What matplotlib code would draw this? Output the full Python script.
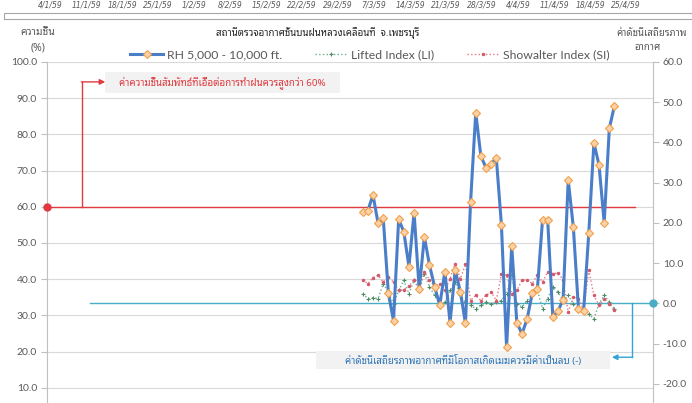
import matplotlib
matplotlib.use("Agg")
import matplotlib.pyplot as plt
from matplotlib.patches import Rectangle
import numpy as np

plt.rcParams['font.family'] = ['Lato', 'Noto Sans Thai Looped', 'DejaVu Sans']
THAI = ['Noto Sans Thai Looped', 'Lato', 'DejaVu Sans']

# data - 50 soundings, category index 61..110 of 118
rh = [58.6, 58.9, 63.3, 55.4, 56.8, 36.1, 28.5, 56.6, 53.1, 43.5,
      58.4, 37.2, 51.7, 43.9, 37.9, 32.9, 42.1, 28.0, 42.5, 36.6,
      27.8, 61.4, 86.0, 74.0, 70.8, 71.8, 73.6, 55.0, 21.2, 49.2,
      28.0, 24.9, 29.0, 36.1, 37.3, 56.4, 56.4, 29.6, 31.2, 34.3,
      67.4, 54.3, 31.7, 31.3, 52.7, 77.7, 71.5, 55.6, 81.7, 87.9]
li = [2.4, 1.2, 1.4, 1.2, 4.9, 2.8, -0.1, 3.2, 5.7, 2.4,
      5.7, 4.1, 7.4, 4.1, 2.0, -0.5, 0.3, 3.2, 5.3, 2.0,
      0.3, -0.5, -1.3, -0.5, 0.3, -0.1, 0.3, 0.7, 2.4, 7.0,
      -0.1, -0.9, 0.7, 2.4, 3.2, -1.3, 1.2, 4.1, 2.8, 0.7,
      2.0, -0.1, -1.7, -1.7, -2.7, -3.8, -0.1, 2.0, 0.3, -1.3]
si = [5.9, 4.9, 6.4, 7.0, 5.3, 6.5, 5.3, 3.2, 3.4, 4.2,
      5.9, 3.1, 7.8, 5.9, 4.1, 4.9, 3.2, 6.1, 9.9, 6.1,
      9.7, 0.7, 2.0, 0.7, 2.0, 2.8, 0.7, 7.2, 7.0, 2.4,
      3.2, 5.7, 5.9, 4.9, 7.1, 5.3, 7.8, 7.4, 7.5, 5.9,
      -2.2, 1.6, 1.2, -1.7, 8.2, 2.0, -0.5, 1.2, -0.1, -1.7]
n_cat = 118
first_cat = 61
rh_threshold = 60
index_threshold = 0

top_dates = ["4/1/59", "11/1/59", "18/1/59", "25/1/59", "1/2/59", "8/2/59",
             "15/2/59", "22/2/59", "29/2/59", "7/3/59", "14/3/59", "21/3/59",
             "28/3/59", "4/4/59", "11/4/59", "18/4/59", "25/4/59"]

title = "สถานีตรวจอากาศชั้นบนฝนหลวงเคลื่อนที่  จ.เพชรบุรี"
left_label = "ความชื้น\n(%)"
right_label = "ค่าดัชนีเสถียรภาพ"
right_label2 = "อากาศ"
rh_note = "ค่าความชื้นสัมพัทธ์ที่เอื้อต่อการทำฝนควรสูงกว่า 60%"
si_note = "ค่าดัชนีเสถียรภาพอากาศที่มีโอกาสเกิดเมฆควรมีค่าเป็นลบ (-)"

x = np.arange(first_cat, first_cat + len(rh)) + 0.5

fig = plt.figure(figsize=(6.92, 4.03), dpi=100)
W, H = 692.0, 403.0
ax = fig.add_axes([46.7 / W, 1 - 424 / H, (653 - 46.7) / W, (424 - 62) / H])
ax2 = ax.twinx()

grey = '#595959'
axcol = '#bfbfbf'

ax.set_xlim(0, n_cat)
ax.set_ylim(0, 100)
ax2.set_ylim(-30, 60)
ax.set_yticks(np.arange(10, 101, 10))
ax2.set_yticks(np.arange(-20, 61, 10))
ax.set_yticklabels(["%.1f" % v for v in np.arange(10, 101, 10)])
ax2.set_yticklabels(["%.1f" % v for v in np.arange(-20, 61, 10)])
ax.set_xticks([])
ax.grid(axis='y', color='#d9d9d9', lw=0.8)
ax.set_axisbelow(True)
for a in (ax, ax2):
    for s in ('top', 'bottom'):
        a.spines[s].set_visible(False)
    a.spines['left'].set_color(axcol)
    a.spines['right'].set_color(axcol)
    a.tick_params(axis='y', colors=axcol, labelcolor=grey, labelsize=7.5,
                  length=4, width=0.8, pad=3)
ax2.spines['left'].set_visible(False)
ax.spines['right'].set_visible(False)

# threshold lines
ax.plot([0, 114.5], [rh_threshold, rh_threshold], color='#e0393e', lw=1.0, zorder=2)
ax.plot([0], [rh_threshold], 'o', color='#e0393e', ms=5, clip_on=False, zorder=6)
ax2.plot([8.4, n_cat], [index_threshold, index_threshold], color='#4bacc6', lw=1.0, zorder=2)
ax2.plot([n_cat], [index_threshold], 'o', color='#4bacc6', ms=5, clip_on=False, zorder=6)

# series
l_li, = ax2.plot(x, li, ls=':', lw=1.0, color='#6fae93', marker='+', ms=3,
                 mec='#4d8b62', mew=0.8, zorder=3)
l_si, = ax2.plot(x, si, ls=':', lw=1.0, color='#e07a85', marker='.', ms=3,
                 mec='#d45a6a', mfc='#d45a6a', zorder=3)
ax3 = ax.twinx()
ax3.set_ylim(0, 100)
ax3.axis('off')
l_rh, = ax3.plot(x, rh, color='#4a7ec9', lw=2.2, marker='D', ms=4,
                 mfc='#fbd2a8', mec='#f0a04b', mew=0.8, zorder=5)

# red annotation
ax.plot([6.9, 6.9], [rh_threshold, 94.5], color='#e0393e', lw=1.0, zorder=4)
ax.annotate("", xy=(11.4, 94.5), xytext=(6.75, 94.5),
            arrowprops=dict(arrowstyle='-|>', color='#e0393e', lw=1.0,
                            mutation_scale=8, shrinkA=0, shrinkB=0))
ax.add_patch(Rectangle((11.3, 91.4), 45.8, 5.8, facecolor='#f2f2f2',
                       edgecolor='none', zorder=1))
ax.text(34.2, 94.3, rh_note, family=THAI, fontsize=7, color='#e0393e',
        ha='center', va='center', zorder=4)

# blue annotation
ax2.plot([113.9, 113.9], [index_threshold, -13.4], color='#33a3d6', lw=1.0, zorder=4)
ax2.annotate("", xy=(110.0, -13.4), xytext=(114.05, -13.4),
             arrowprops=dict(arrowstyle='-|>', color='#33a3d6', lw=1.0,
                             mutation_scale=8, shrinkA=0, shrinkB=0))
ax2.add_patch(Rectangle((52.4, -16.4), 57.2, 4.5, facecolor='#f2f2f2',
                        edgecolor='none', zorder=1))
ax2.text(81.0, -14.2, si_note, family=THAI, fontsize=7, color='#2e75b6',
         ha='center', va='center', zorder=4)

# titles
fig.text(318 / W, 1 - 33 / H, title, family=THAI, fontsize=7, color='#262626',
         weight='semibold', ha='center', va='center')
fig.text(38 / W, 1 - 40 / H, left_label, family=THAI, fontsize=7.5, color=grey,
         ha='center', va='center', linespacing=1.5)
fig.text(652 / W, 1 - 33 / H, right_label, family=THAI, fontsize=7, color=grey,
         ha='center', va='center')
fig.text(647 / W, 1 - 48 / H, right_label2, family=THAI, fontsize=7, color=grey,
         ha='center', va='center')

# legend
fig.legend([l_rh, l_li, l_si],
           ["RH 5,000 - 10,000 ft.", "Lifted Index (LI)", "Showalter Index (SI)"],
           ncol=3, loc='center', bbox_to_anchor=(370 / W, 1 - 55 / H),
           frameon=False, fontsize=8.8, handlelength=2.7, handletextpad=0.25,
           columnspacing=2.7, labelcolor=grey)

# axis labels of the chart above (mostly cut off in the original) and its frame
for i, d in enumerate(top_dates):
    fig.text((50 + i * 36.0) / W, 1 - 5 / H, d, family='DejaVu Sans', fontsize=5.5,
             color=grey, style='italic', ha='center', va='center')
fig.add_artist(Rectangle((4 / W, 1 - 19 / H), 700 / W, 6 / H, transform=fig.transFigure,
                         facecolor='none', edgecolor='#a6a6a6', lw=0.8))

fig.savefig("out.png", dpi=100)
